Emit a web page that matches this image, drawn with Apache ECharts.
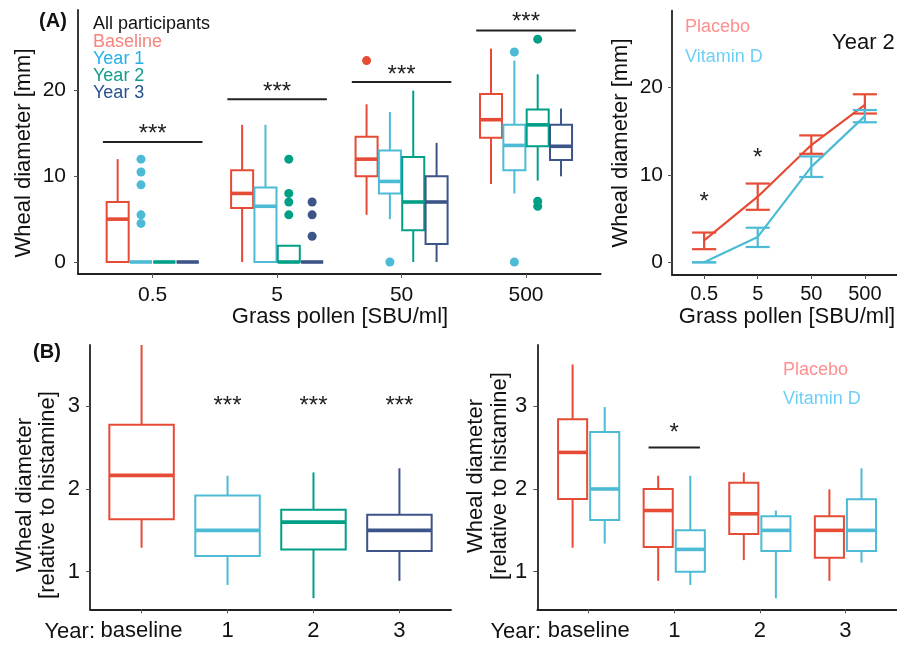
<!DOCTYPE html>
<html><head><meta charset="utf-8">
<script src="https://cdn.jsdelivr.net/npm/echarts@6/dist/echarts.min.js"></script>
<style>html,body{margin:0;padding:0;background:#fff}#c{width:897px;height:646px}</style>
</head><body><div id="c"></div>
<script>
// ---------- DATA ----------
const pollenCats = ['0.5', '5', '50', '500'];
const yearCats = ['baseline', '1', '2', '3'];
const yTicksA = [0, 10, 20];
const yTicksB = [1, 2, 3];
const groupNamesA = ['Baseline', 'Year 1', 'Year 2', 'Year 3'];

// Panel A left: [min, q1, median, q3, max] per pollen concentration
const baselineBoxA = [[0, 0, 5, 7, 12], [0, 6.3, 8, 10.7, 16], [5.5, 10, 12, 14.6, 18.4], [9.1, 14.5, 16.6, 19.6, 24.9]];
const year1BoxA = [[0, 0, 0, 0, 0], [0, 0, 6.5, 8.7, 16], [5, 8, 9.4, 13, 17.5], [8, 10.7, 13.6, 16, 23.5]];
const year2BoxA = [[0, 0, 0, 0, 0], [0, 0, 0, 1.9, 1.9], [0, 3.7, 7, 12.25, 20], [9.5, 13.5, 16, 17.8, 21.9]];
const year3BoxA = [[0, 0, 0, 0, 0], [0, 0, 0, 0, 0], [0, 2.1, 7, 10, 13.9], [10, 11.9, 13.5, 16, 17.9]];
// outliers: [concentration index, value]
const baselineOutA = [[2, 23.5]];
const year1OutA = [[0, 12], [0, 10.5], [0, 9], [0, 5.5], [0, 4.5], [2, 0], [3, 24.5], [3, 0]];
const year2OutA = [[1, 12], [1, 8], [1, 7], [1, 5.5], [3, 26], [3, 7.1], [3, 6.5]];
const year3OutA = [[1, 7], [1, 5.5], [1, 3]];
// significance: [index, bar value, star value]
const sigA = [[0, 14, 15.6], [1, 19, 20.5], [2, 21, 22.5], [3, 27, 28.7]];

// Panel A right (Year 2): means and error limits
const placeboMean = [2.5, 7.5, 13.4, 18.0];
const placeboLo = [1.5, 6.0, 12.4, 17.0];
const placeboHi = [3.4, 9.0, 14.5, 19.2];
const vitDMean = [0, 2.9, 10.9, 16.7];
const vitDLo = [0, 1.75, 9.75, 16.0];
const vitDHi = [0, 3.95, 12.1, 17.4];
const starsA2 = [[0, 7.5], [1, 12.6]];

// Panel B left: all participants per year
const allBoxB = [[1.29, 1.633, 2.164, 2.775, 3.74], [0.84, 1.19, 1.50, 1.92, 2.16], [0.68, 1.27, 1.60, 1.75, 2.20], [0.89, 1.25, 1.50, 1.69, 2.25]];
const starsB1 = [[1, 3.07], [2, 3.07], [3, 3.07]];
// Panel B right: placebo vs vitamin D
const placeboBoxB = [[1.29, 1.878, 2.442, 2.844, 3.505], [0.89, 1.30, 1.74, 2.0, 2.16], [1.14, 1.455, 1.70, 2.075, 2.20], [0.89, 1.17, 1.50, 1.67, 1.995]];
const vitDBoxB = [[1.34, 1.625, 2.0, 2.69, 2.99], [0.84, 1.0, 1.27, 1.50, 2.16], [0.68, 1.25, 1.50, 1.67, 1.74], [1.11, 1.25, 1.50, 1.875, 2.25]];
const sigB2 = [[1, 2.5, 2.75]];

// ---------- STYLE ----------
const FONT = '"Liberation Sans", Arial, Helvetica, sans-serif';
const RED = '#E64B35', LBLUE = '#4DBBD5', TEAL = '#00A087', DBLUE = '#3C5488';
const boxColorsA = [RED, LBLUE, TEAL, DBLUE];
const legendColorsA = ['#F8847C', '#22B2EA', '#139C8E', '#27528F'];
const PLACEBO_TXT = '#FF8F8F', VITD_TXT = '#6DCFF6';
const AXIS = '#222', TXT = '#111';

function boxRender(offset, width, color, lw, mw) {
  return function (params, api) {
    const x = api.value(0) + offset;
    const pLo = api.coord([x, api.value(1)]);
    const pQ1 = api.coord([x, api.value(2)]);
    const pMd = api.coord([x, api.value(3)]);
    const pQ3 = api.coord([x, api.value(4)]);
    const pHi = api.coord([x, api.value(5)]);
    const hw = api.size([width, 0])[0] / 2;
    const cx = pLo[0];
    const ls = { stroke: color, lineWidth: lw };
    return { type: 'group', children: [
      { type: 'line', shape: { x1: cx, y1: pLo[1], x2: cx, y2: pQ1[1] }, style: ls },
      { type: 'line', shape: { x1: cx, y1: pQ3[1], x2: cx, y2: pHi[1] }, style: ls },
      { type: 'rect', shape: { x: cx - hw, y: pQ3[1], width: 2 * hw, height: pQ1[1] - pQ3[1] }, style: { stroke: color, lineWidth: lw, fill: '#fff' } },
      { type: 'line', shape: { x1: cx - hw, y1: pMd[1], x2: cx + hw, y2: pMd[1] }, style: { stroke: color, lineWidth: mw } }
    ] };
  };
}
function boxSeries(gi, boxes, color, offset, width) {
  return {
    type: 'custom', xAxisIndex: gi, yAxisIndex: gi, clip: false,
    data: boxes.map((b, i) => [i].concat(b)),
    encode: { x: 0, y: [1, 2, 3, 4, 5] },
    renderItem: boxRender(offset, width, color, 2, 3.6), z: 2
  };
}
function sigSeries(gi, data, halfW, stars, fs) {
  return {
    type: 'custom', xAxisIndex: gi, yAxisIndex: gi, clip: false,
    data: data, encode: { x: 0, y: 1 }, z: 5,
    renderItem: function (params, api) {
      const c = api.value(0);
      const children = [];
      if (halfW > 0) {
        const p1 = api.coord([c - halfW, api.value(1)]);
        const p2 = api.coord([c + halfW, api.value(1)]);
        children.push({ type: 'line', shape: { x1: p1[0], y1: p1[1], x2: p2[0], y2: p2[1] }, style: { stroke: AXIS, lineWidth: 2 } });
      }
      const ps = api.coord([c, api.value(halfW > 0 ? 2 : 1)]);
      children.push({ type: 'text', x: ps[0], y: ps[1] + 6, style: { text: stars, fontSize: fs, fontFamily: FONT, fill: AXIS, align: 'center', verticalAlign: 'middle' } });
      return { type: 'group', children: children };
    }
  };
}
function errSeries(gi, lo, hi, color, capW) {
  return {
    type: 'custom', xAxisIndex: gi, yAxisIndex: gi, clip: false,
    data: lo.map((l, i) => [i, l, hi[i]]), encode: { x: 0, y: [1, 2] }, z: 3,
    renderItem: function (params, api) {
      const pl = api.coord([api.value(0), api.value(1)]);
      const ph = api.coord([api.value(0), api.value(2)]);
      const hw = api.size([capW, 0])[0] / 2;
      const st = { stroke: color, lineWidth: 2.2 };
      return { type: 'group', children: [
        { type: 'line', shape: { x1: pl[0], y1: pl[1], x2: ph[0], y2: ph[1] }, style: st },
        { type: 'line', shape: { x1: pl[0] - hw, y1: pl[1], x2: pl[0] + hw, y2: pl[1] }, style: st },
        { type: 'line', shape: { x1: ph[0] - hw, y1: ph[1], x2: ph[0] + hw, y2: ph[1] }, style: st }
      ] };
    }
  };
}
function xAxisDef(gi, cats, fs, margin) {
  return {
    type: 'value', gridIndex: gi, min: -0.6, max: 3.6,
    splitLine: { show: false },
    axisLine: { show: true, onZero: false, lineStyle: { color: AXIS, width: 1.8 } },
    axisTick: { show: true, length: 4, customValues: [0, 1, 2, 3], lineStyle: { color: '#555' } },
    axisLabel: { customValues: [0, 1, 2, 3], formatter: v => cats[Math.round(v)], fontSize: fs, fontFamily: FONT, color: TXT, margin: margin }
  };
}
function yAxisDef(gi, min, max, ticks, fs, margin) {
  return {
    type: 'value', gridIndex: gi, min: min, max: max,
    splitLine: { show: false },
    axisLine: { show: true, onZero: false, lineStyle: { color: AXIS, width: 1.8 } },
    axisTick: { show: true, length: 4, customValues: ticks, lineStyle: { color: '#555' } },
    axisLabel: { customValues: ticks, fontSize: fs, fontFamily: FONT, color: TXT, margin: margin }
  };
}
function txt(x, y, s, fs, color, opts) {
  opts = opts || {};
  return {
    type: 'text', x: x, y: y, rotation: opts.rot || 0, z: 10,
    style: { text: s, fontSize: fs, fontFamily: FONT, fill: color, fontWeight: opts.bold ? 'bold' : 'normal',
      align: opts.align || 'left', verticalAlign: 'middle' }
  };
}

// ---------- BUILD ----------
const series = [];
const dodgeA = 0.75 / 4;
[baselineBoxA, year1BoxA, year2BoxA, year3BoxA].forEach((boxes, g) => {
  series.push(boxSeries(0, boxes, boxColorsA[g], (g - 1.5) * dodgeA, 0.177));
});
[baselineOutA, year1OutA, year2OutA, year3OutA].forEach((outs, g) => {
  series.push({ type: 'scatter', xAxisIndex: 0, yAxisIndex: 0, symbolSize: 9, z: 4,
    itemStyle: { color: boxColorsA[g], opacity: 1 },
    data: outs.map(o => [o[0] + (g - 1.5) * dodgeA, o[1]]) });
});
series.push(sigSeries(0, sigA, 0.4, '***', 24));

series.push({ type: 'line', xAxisIndex: 1, yAxisIndex: 1, symbol: 'none', z: 2,
  lineStyle: { color: RED, width: 2.2 }, data: placeboMean.map((v, i) => [i, v]) });
series.push({ type: 'line', xAxisIndex: 1, yAxisIndex: 1, symbol: 'none', z: 2,
  lineStyle: { color: LBLUE, width: 2.2 }, data: vitDMean.map((v, i) => [i, v]) });
series.push(errSeries(1, placeboLo, placeboHi, RED, 0.45));
series.push(errSeries(1, vitDLo, vitDHi, LBLUE, 0.45));
series.push(sigSeries(1, starsA2, 0, '*', 24));

allBoxB.forEach((b, i) => {
  const s = boxSeries(2, [b], boxColorsA[i], 0, 0.75);
  s.data = [[i].concat(b)];
  series.push(s);
});
series.push(sigSeries(2, starsB1, 0, '***', 24));

series.push(boxSeries(3, placeboBoxB, RED, -0.1875, 0.34));
series.push(boxSeries(3, vitDBoxB, LBLUE, 0.1875, 0.34));
series.push(sigSeries(3, sigB2, 0.3, '*', 24));

const option = {
  animation: false,
  backgroundColor: '#fff',
  grid: [
    { left: 78, top: 10, width: 522.7, height: 264, outerBoundsMode: 'none' },
    { left: 672, top: 10.7, width: 225, height: 264.3, outerBoundsMode: 'none' },
    { left: 90, top: 345, width: 361, height: 264.3, outerBoundsMode: 'none' },
    { left: 537.3, top: 345, width: 359.5, height: 264.3, outerBoundsMode: 'none' }
  ],
  xAxis: [
    xAxisDef(0, pollenCats, 21, 11),
    xAxisDef(1, pollenCats, 20, 9),
    xAxisDef(2, yearCats, 22, 11),
    xAxisDef(3, yearCats, 22, 11)
  ],
  yAxis: [
    yAxisDef(0, -1.4, 29.4, yTicksA, 21, 12),
    yAxisDef(1, -1.45, 28.75, yTicksA, 21, 9),
    yAxisDef(2, 0.546, 3.74, yTicksB, 22, 10),
    yAxisDef(3, 0.546, 3.74, yTicksB, 22, 10)
  ],
  series: series,
  graphic: [
    txt(53, 21, '(A)', 20, TXT, { bold: true, align: 'center' }),
    txt(47, 352, '(B)', 20, TXT, { bold: true, align: 'center' }),
    txt(93, 24, 'All participants', 18, TXT),
    txt(93, 42, groupNamesA[0], 18, legendColorsA[0]),
    txt(93, 59, groupNamesA[1], 18, legendColorsA[1]),
    txt(93, 76, groupNamesA[2], 18, legendColorsA[2]),
    txt(93, 93, groupNamesA[3], 18, legendColorsA[3]),
    txt(24, 153, 'Wheal diameter [mm]', 22, TXT, { rot: Math.PI / 2, align: 'center' }),
    txt(340, 317, 'Grass pollen [SBU/ml]', 22, TXT, { align: 'center' }),
    txt(685, 27, 'Placebo', 18, PLACEBO_TXT),
    txt(685, 57, 'Vitamin D', 18, VITD_TXT),
    txt(832, 43, 'Year 2', 22, TXT),
    txt(621, 143, 'Wheal diameter [mm]', 22, TXT, { rot: Math.PI / 2, align: 'center' }),
    txt(787, 317, 'Grass pollen [SBU/ml]', 22, TXT, { align: 'center' }),
    txt(25, 495, 'Wheal diameter', 22, TXT, { rot: Math.PI / 2, align: 'center' }),
    txt(47.5, 495, '[relative to histamine]', 22, TXT, { rot: Math.PI / 2, align: 'center' }),
    txt(95, 632, 'Year:', 22, TXT, { align: 'right' }),
    txt(476, 476, 'Wheal diameter', 22, TXT, { rot: Math.PI / 2, align: 'center' }),
    txt(500, 476, '[relative to histamine]', 22, TXT, { rot: Math.PI / 2, align: 'center' }),
    txt(541, 632, 'Year:', 22, TXT, { align: 'right' }),
    txt(783, 370, 'Placebo', 18, PLACEBO_TXT),
    txt(783, 399, 'Vitamin D', 18, VITD_TXT)
  ]
};
const chart = echarts.init(document.getElementById('c'), null, { renderer: 'canvas' });
chart.setOption(option);
</script></body></html>
